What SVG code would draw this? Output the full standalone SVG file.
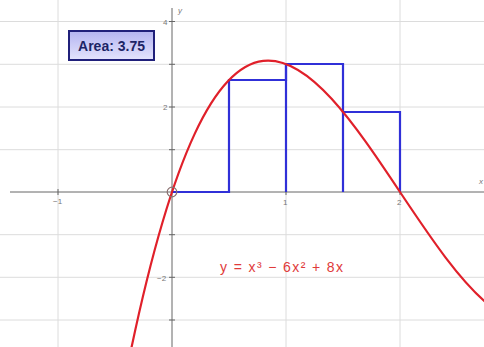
<svg xmlns="http://www.w3.org/2000/svg" width="484" height="347" viewBox="0 0 484 347">
<defs>
<linearGradient id="boxg" x1="0" y1="0" x2="0" y2="1">
<stop offset="0" stop-color="#b4b4f0"/>
<stop offset="1" stop-color="#e4e4fd"/>
</linearGradient>
<clipPath id="clip"><rect x="0" y="0" width="484" height="347"/></clipPath>
</defs>
<style>
.grid{stroke:#dcdcdc;stroke-width:1;fill:none}
.axis{stroke:#666;stroke-width:1;fill:none}
.tick{font-family:"Liberation Sans",Arial,sans-serif;font-size:8px;fill:#777}
.rect{stroke:#3030d8;stroke-width:2.2;fill:none}
.curve{stroke:#e0202a;stroke-width:2.2;fill:none}
.eq{font-family:"Liberation Sans",Arial,sans-serif;font-size:14px;fill:#e03a3a}
</style>
<rect width="484" height="347" fill="#ffffff"/>
<g id="grid" class="grid">
<line x1="58" y1="0" x2="58" y2="347"/>
<line x1="286" y1="0" x2="286" y2="347"/>
<line x1="400" y1="0" x2="400" y2="347"/>
<line x1="0" y1="21.5" x2="484" y2="21.5"/>
<line x1="0" y1="64.3" x2="484" y2="64.3"/>
<line x1="0" y1="107" x2="484" y2="107"/>
<line x1="0" y1="149.7" x2="484" y2="149.7"/>
<line x1="0" y1="234.7" x2="484" y2="234.7"/>
<line x1="0" y1="277.3" x2="484" y2="277.3"/>
<line x1="0" y1="320" x2="484" y2="320"/>
</g>
<g id="axes" class="axis">
<line x1="10" y1="192" x2="484" y2="192"/>
<line x1="172" y1="8" x2="172" y2="347"/>
<path d="M58 189v6M286 189v6M400 189v6M169 21.5h6M169 64.3h6M169 107h6M169 149.7h6M169 234.7h6M169 277.3h6M169 320h6"/>
</g>
<g id="labels">
<text class="tick" x="163" y="25">4</text>
<text class="tick" x="163" y="110">2</text>
<text class="tick" x="157" y="281">−2</text>
<text class="tick" x="53" y="204">−1</text>
<text class="tick" x="283" y="205">1</text>
<text class="tick" x="397" y="205">2</text>
<text class="tick" x="178" y="13" font-style="italic">y</text>
<text class="tick" x="479" y="184" font-style="italic">x</text>
</g>
<g id="rectangles" class="rect">
<path d="M172 192H229V80H286V64H343V112H400V192"/>
<path d="M286 192V64M343 192V112"/>
</g>
<g id="curve" clip-path="url(#clip)">
<path class="curve" d="M126.4 372.24C248 -232.2 369.6 212.03 491.2 306.7"/>
</g>
<g id="origin">
<circle cx="172" cy="192" r="4.8" fill="none" stroke="#8a7070" stroke-width="1.2"/>
</g>
<g id="equation">
<text class="eq" x="220" y="272" textLength="123" lengthAdjust="spacing">y = x³ − 6x² + 8x</text>
</g>
<g id="area">
<rect x="69" y="31" width="85" height="29" fill="url(#boxg)" stroke="#20207a" stroke-width="2"/>
<text x="111.5" y="51" text-anchor="middle" font-family="Liberation Sans,Arial,sans-serif" font-size="14" font-weight="bold" fill="#1c2466">Area: 3.75</text>
</g>
</svg>
